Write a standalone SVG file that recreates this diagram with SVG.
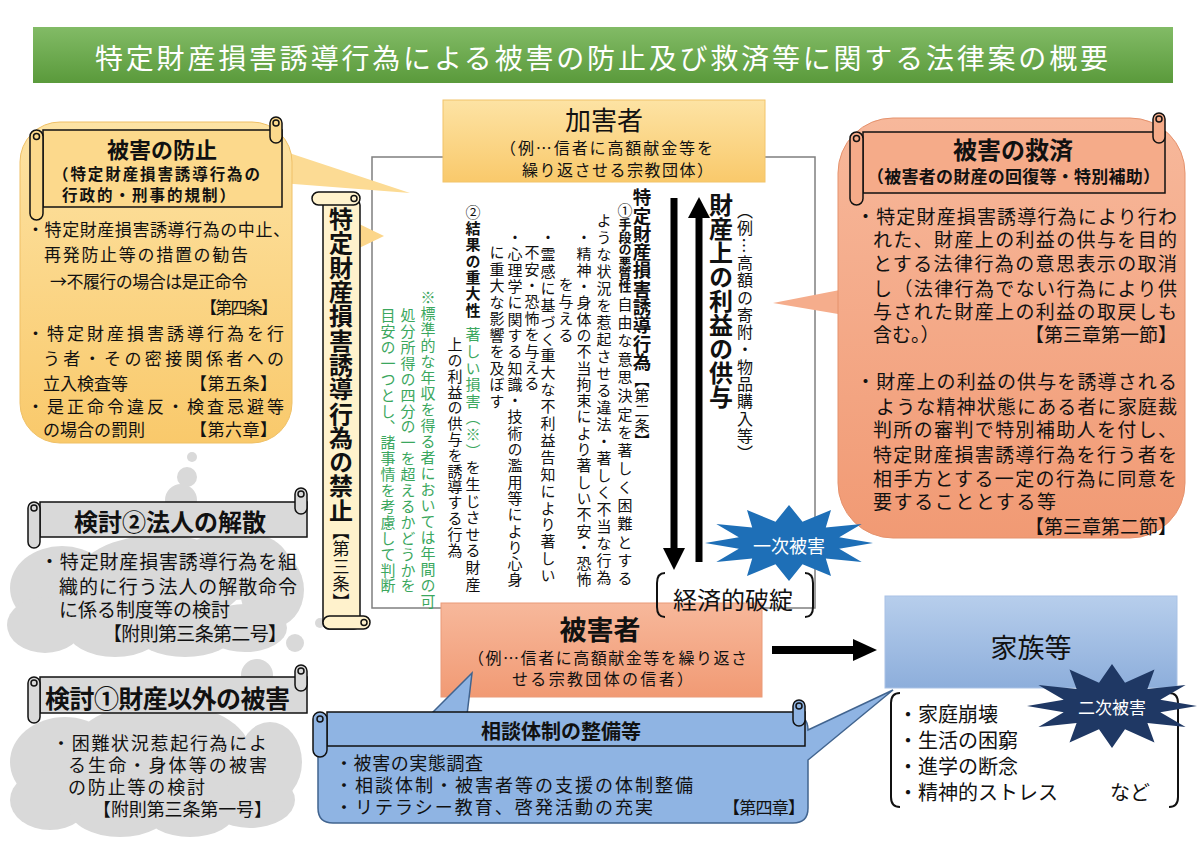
<svg xmlns="http://www.w3.org/2000/svg" width="1200" height="848" viewBox="0 0 1200 848">
<defs>
<linearGradient id="gTitle" x1="0" y1="0" x2="0" y2="1"><stop offset="0" stop-color="#82bb66"/><stop offset="1" stop-color="#5a9a3b"/></linearGradient>
<linearGradient id="gOrange" x1="0" y1="0" x2="0" y2="1"><stop offset="0" stop-color="#fde3a4"/><stop offset="1" stop-color="#f9c96b"/></linearGradient>
<linearGradient id="gSalmon" x1="0" y1="0" x2="0" y2="1"><stop offset="0" stop-color="#f7b89b"/><stop offset="1" stop-color="#f19a74"/></linearGradient>
<linearGradient id="gBlue" x1="0" y1="0" x2="0" y2="1"><stop offset="0" stop-color="#b7ceec"/><stop offset="1" stop-color="#8daedb"/></linearGradient>
<style>
text{font-family:'Noto Sans CJK JP','Noto Sans',sans-serif;fill:#111}
.v{writing-mode:vertical-rl;text-orientation:mixed}
.b{font-weight:bold}
.g{fill:#3ba75e}
.c{text-anchor:middle}
.m{dominant-baseline:central}
.w{fill:#fff}
.scroll{stroke:#111;stroke-width:1.5}
.cloud{fill:#d9d9d9}
.brk{fill:none;stroke:#111;stroke-width:2}
</style>
</defs>
<rect width="1200" height="848" fill="#fff"/>

<g id="title">
<rect x="33" y="27" width="1140" height="56" fill="url(#gTitle)"/>
<text class="w m" x="95" y="57" font-size="28" textLength="1013" lengthAdjust="spacing">特定財産損害誘導行為による被害の防止及び救済等に関する法律案の概要</text>
</g>

<g id="frame">
<rect x="372" y="157" width="443" height="451" fill="#fff" stroke="#7f7f7f" stroke-width="1.5"/>
</g>

<g id="cloud2">
<circle class="cloud" cx="192" cy="457" r="5"/>
<circle class="cloud" cx="187" cy="477" r="10"/>
<circle class="cloud" cx="181" cy="500" r="16"/>
<ellipse class="cloud" cx="62" cy="588" rx="52" ry="42"/>
<ellipse class="cloud" cx="45" cy="625" rx="38" ry="28"/>
<ellipse class="cloud" cx="115" cy="630" rx="48" ry="27"/>
<ellipse class="cloud" cx="185" cy="635" rx="48" ry="22"/>
<ellipse class="cloud" cx="245" cy="628" rx="42" ry="24"/>
<ellipse class="cloud" cx="272" cy="590" rx="32" ry="38"/>
<ellipse class="cloud" cx="160" cy="580" rx="85" ry="45"/>
<ellipse class="cloud" cx="235" cy="565" rx="55" ry="35"/>
<circle class="cloud" cx="295" cy="643" r="9"/>
<circle class="cloud" cx="320" cy="623" r="5"/>
</g>

<g id="cloud1">
<circle class="cloud" cx="257" cy="675" r="16"/>
<ellipse class="cloud" cx="65" cy="762" rx="55" ry="45"/>
<ellipse class="cloud" cx="50" cy="800" rx="40" ry="30"/>
<ellipse class="cloud" cx="120" cy="810" rx="50" ry="27"/>
<ellipse class="cloud" cx="190" cy="812" rx="45" ry="25"/>
<ellipse class="cloud" cx="250" cy="800" rx="45" ry="28"/>
<ellipse class="cloud" cx="270" cy="762" rx="32" ry="40"/>
<ellipse class="cloud" cx="160" cy="752" rx="90" ry="50"/>
</g>

<g id="prevention">
<polygon points="268,146 410,193 268,182" fill="#fcdb94"/>
<rect x="20" y="122" width="272" height="321" rx="40" fill="url(#gOrange)" stroke="#efc066" stroke-width="1"/>
<rect class="scroll" x="43" y="130" width="239" height="77" fill="#fcd98c"/>
<rect class="scroll" x="30" y="130" width="13" height="90" rx="6.5" fill="#fcd98c"/>
<circle class="scroll" cx="36.5" cy="136.5" r="3" fill="#fcd98c"/>
<rect class="scroll" x="270" y="117" width="12" height="26" rx="6" fill="#fcd98c"/>
<circle class="scroll" cx="276" cy="123" r="3" fill="#fcd98c"/>
<text class="b c m" x="162" y="148" font-size="22">被害の防止</text>
<text class="b m" x="53" y="173" font-size="15.5" textLength="207">（特定財産損害誘導行為の</text>
<text class="b m" x="62" y="194" font-size="15.5" textLength="173">行政的・刑事的規制）</text>
<text class="m" x="27" y="228" font-size="17" textLength="263">・特定財産損害誘導行為の中止、</text>
<text class="m" x="44" y="253" font-size="17" textLength="204">再発防止等の措置の勧告</text>
<text class="m" x="50" y="280" font-size="17" textLength="198">→不履行の場合は是正命令</text>
<text class="m" x="200" y="306" font-size="17" textLength="78">【第四条】</text>
<text class="m" x="27" y="332" font-size="17" textLength="257">・特定財産損害誘導行為を行</text>
<text class="m" x="43" y="357" font-size="17" textLength="241">う者・その密接関係者への</text>
<text class="m" x="43" y="382" font-size="17">立入検査等</text>
<text class="m" x="190" y="382" font-size="17" textLength="87">【第五条】</text>
<text class="m" x="27" y="405" font-size="17" textLength="257">・是正命令違反・検査忌避等</text>
<text class="m" x="43" y="428" font-size="17">の場合の罰則</text>
<text class="m" x="190" y="428" font-size="17" textLength="87">【第六章】</text>
</g>

<g id="prohibition">
<polygon points="355,222 384,236 355,250" fill="#fcd68a"/>
<rect class="scroll" x="323" y="199" width="37" height="430" rx="6" fill="#fff2cc"/>
<rect class="scroll" x="312" y="192" width="48" height="13" rx="6.5" fill="#fff2cc"/>
<circle class="scroll" cx="354" cy="198.5" r="3" fill="#fff2cc"/>
<rect class="scroll" x="323" y="616" width="47" height="13" rx="6.5" fill="#fff2cc"/>
<circle class="scroll" cx="364" cy="622.5" r="3" fill="#fff2cc"/>
<text class="v b" x="341" y="207" font-size="24" letter-spacing="0.3">特定財産損害誘導行為の禁止<tspan y="523" font-size="17" font-weight="normal" letter-spacing="0.4">【第三条】</tspan></text>
</g>

<g id="relief">
<polygon points="850,288 773,303 850,316" fill="#f5ad8c"/>
<rect x="838" y="118" width="347" height="420" rx="55" fill="url(#gSalmon)" stroke="#e5926d" stroke-width="1"/>
<rect class="scroll" x="863" y="132" width="302" height="61" fill="#f5ab89"/>
<rect class="scroll" x="850" y="132" width="13" height="73" rx="6.5" fill="#f5ab89"/>
<circle class="scroll" cx="856.5" cy="138.5" r="3" fill="#f5ab89"/>
<rect class="scroll" x="1153" y="113" width="12" height="30" rx="6" fill="#f5ab89"/>
<circle class="scroll" cx="1159" cy="119" r="3" fill="#f5ab89"/>
<text class="b c m" x="1013" y="148" font-size="24">被害の救済</text>
<text class="b m" x="867" y="175" font-size="17" textLength="293">（被害者の財産の回復等・特別補助）</text>
<text class="m" x="856" y="215" font-size="19" textLength="321">・特定財産損害誘導行為により行わ</text>
<text class="m" x="873" y="238" font-size="19" textLength="304">れた、財産上の利益の供与を目的</text>
<text class="m" x="873" y="262" font-size="19" textLength="304">とする法律行為の意思表示の取消</text>
<text class="m" x="873" y="287" font-size="19" textLength="304">し（法律行為でない行為により供</text>
<text class="m" x="873" y="310" font-size="19" textLength="304">与された財産上の利益の取戻しも</text>
<text class="m" x="873" y="333" font-size="19">含む。）</text>
<text class="m" x="1025" y="333" font-size="19" textLength="152">【第三章第一節】</text>
<text class="m" x="856" y="380" font-size="19" textLength="321">・財産上の利益の供与を誘導される</text>
<text class="m" x="876" y="405" font-size="19" textLength="301">ような精神状態にある者に家庭裁</text>
<text class="m" x="873" y="428" font-size="19" textLength="304">判所の審判で特別補助人を付し、</text>
<text class="m" x="873" y="453" font-size="19" textLength="304">特定財産損害誘導行為を行う者を</text>
<text class="m" x="873" y="477" font-size="19" textLength="304">相手方とする一定の行為に同意を</text>
<text class="m" x="873" y="500" font-size="19" textLength="183">要することとする等</text>
<text class="m" x="1025" y="525" font-size="19" textLength="152">【第三章第二節】</text>
</g>

<g id="perpetrator">
<rect x="443" y="100" width="322" height="82" fill="url(#gOrange)" stroke="#f2c46a" stroke-width="1"/>
<text class="c m" x="604" y="118" font-size="26">加害者</text>
<text class="m" x="500" y="147" font-size="16" textLength="213">（例…信者に高額献金等を</text>
<text class="m" x="522" y="169" font-size="16" textLength="191">繰り返させる宗教団体）</text>
</g>

<g id="act">
<text class="v b" x="642" y="188" font-size="18.5" letter-spacing="-0.2">特定財産損害誘導行為<tspan y="373" font-size="15" font-weight="normal" letter-spacing="0">【第二条】</tspan></text>
<text class="v" x="625" y="203" font-size="15">①<tspan class="b" y="218" font-size="13" letter-spacing="-0.6">手段の悪質性</tspan><tspan y="297" letter-spacing="3.3">自由な意思決定を著しく困難とする</tspan></text>
<text class="v" x="604" y="213" font-size="15" letter-spacing="2">ような状況を惹起させる違法・著しく不当な行為</text>
<text class="v" x="584" y="230" font-size="15" letter-spacing="1.3">・精神・身体の不当拘束により著しい不安・恐怖</text>
<text class="v" x="566" y="277" font-size="15" letter-spacing="2">を与える</text>
<text class="v" x="548" y="230" font-size="15" letter-spacing="1.9">・霊感に基づく重大な不利益告知により著しい</text>
<text class="v" x="532" y="245" font-size="15" letter-spacing="1.4">不安・恐怖を与える</text>
<text class="v" x="515" y="230" font-size="15" letter-spacing="1.3">・心理学に関する知識・技術の濫用等により心身</text>
<text class="v" x="497" y="245" font-size="15" letter-spacing="1.5">に重大な影響を及ぼす</text>
<text class="v" x="473" y="205" font-size="15">②<tspan class="b" y="221" letter-spacing="1.3">結果の重大性</tspan><tspan class="g" y="327" letter-spacing="1.6">著しい損害（※）</tspan><tspan letter-spacing="1.6">を生じさせる財産</tspan></text>
<text class="v" x="455" y="337" font-size="15" letter-spacing="0.8">上の利益の供与を誘導する行為</text>
<text class="v g" x="428" y="290" font-size="15" letter-spacing="1">※標準的な年収を得る者においては年間の可</text>
<text class="v g" x="408" y="308" font-size="15" letter-spacing="0.9">処分所得の四分の一を超えるかどうかを</text>
<text class="v g" x="388" y="308" font-size="15" letter-spacing="0.9">目安の一つとし、諸事情を考慮して判断</text>
</g>

<g id="benefit">
<text class="v b" x="721" y="193" font-size="24">財産上の利益の供与</text>
<text class="v" x="745" y="203" font-size="16" letter-spacing="1.3">（例…高額の寄附・物品購入等）</text>
</g>

<g id="connectors">
<line x1="674" y1="198" x2="674" y2="550" stroke="#000" stroke-width="7"/>
<polygon points="663,548 685,548 674,570" fill="#000"/>
<line x1="699" y1="215" x2="699" y2="562" stroke="#000" stroke-width="7"/>
<polygon points="688,218 710,218 699,197" fill="#000"/>
<line x1="772" y1="650" x2="856" y2="650" stroke="#000" stroke-width="8"/>
<polygon points="853,639 853,661 877,650" fill="#000"/>
</g>

<g id="victim">
<rect x="441" y="603" width="321" height="94" fill="url(#gSalmon)" stroke="#ea9a78" stroke-width="1"/>
<text class="b c m" x="600" y="628" font-size="27">被害者</text>
<text class="m" x="468" y="657" font-size="16" textLength="279">（例…信者に高額献金等を繰り返さ</text>
<text class="m" x="512" y="678" font-size="16" textLength="181">せる宗教団体の信者）</text>
</g>

<g id="collapse">
<path class="brk" d="M665,573 Q657,573 657,583 L657,607 Q657,617 665,617"/>
<path class="brk" d="M805,573 Q813,573 813,583 L813,607 Q813,617 805,617"/>
<text class="c m" x="733" y="598" font-size="24">経済的破綻</text>
</g>

<g id="primary">
<polygon fill="#1e6fb7" points="873,543 839.2,548.7 861.7,562 825.8,558.6 831,575.9 802.5,564.3 789,581 775.5,564.3 747,575.9 752.2,558.6 716.3,562 738.8,548.7 705,543 738.8,537.3 716.3,524 752.2,527.4 747,510.1 775.5,521.7 789,505 802.5,521.7 831,510.1 825.8,527.4 861.7,524 839.2,537.3"/>
<text class="w c m" x="789" y="545" font-size="18">一次被害</text>
</g>

<g id="consult">
<path d="M333,715 L430,715 L472,673 L467,715 L793,715 Q808,715 808,730 L893,690 L808,760 L808,808 Q808,823 793,823 L333,823 Q318,823 318,808 L318,730 Q318,715 333,715 Z" fill="#8fb4e3" stroke="#41648f" stroke-width="1.5"/>
<rect class="scroll" x="327" y="712" width="478" height="34" fill="#8fb4e3"/>
<rect class="scroll" x="313" y="712" width="14" height="45" rx="7" fill="#8fb4e3"/>
<circle class="scroll" cx="320" cy="719" r="3" fill="#8fb4e3"/>
<rect class="scroll" x="793" y="700" width="12" height="26" rx="6" fill="#8fb4e3"/>
<circle class="scroll" cx="799" cy="706" r="3" fill="#8fb4e3"/>
<text class="b c m" x="561" y="730" font-size="20">相談体制の整備等</text>
<text class="m" x="335" y="762" font-size="18" textLength="148">・被害の実態調査</text>
<text class="m" x="335" y="784" font-size="18" textLength="358">・相談体制・被害者等の支援の体制整備</text>
<text class="m" x="335" y="806" font-size="18" textLength="318">・リテラシー教育、啓発活動の充実</text>
<text class="m" x="723" y="806" font-size="17" textLength="82">【第四章】</text>
</g>

<g id="family">
<rect x="885" y="596" width="292" height="92" fill="url(#gBlue)" stroke="#a9c2e5" stroke-width="1"/>
<text class="c m" x="1031" y="646" font-size="27">家族等</text>
<path class="brk" d="M900,693 Q891,693 891,703 L891,797 Q891,807 900,807"/>
<path class="brk" d="M1169,693 Q1178,693 1178,703 L1178,797 Q1178,807 1169,807"/>
<text class="m" x="898" y="713" font-size="20">・家庭崩壊</text>
<text class="m" x="898" y="739" font-size="20">・生活の困窮</text>
<text class="m" x="898" y="765" font-size="20">・進学の断念</text>
<text class="m" x="898" y="791" font-size="20">・精神的ストレス</text>
<text class="m" x="1110" y="791" font-size="20">など</text>
</g>

<g id="secondary">
<polygon fill="#1f3864" points="1197,706 1160.3,712.2 1185.6,727 1147.4,723 1154.5,742.4 1125,729.2 1112,748 1099,729.2 1069.5,742.4 1076.6,723 1038.4,727 1063.7,712.2 1027,706 1063.7,699.8 1038.4,685 1076.6,689 1069.5,669.6 1099,682.8 1112,664 1125,682.8 1154.5,669.6 1147.4,689 1185.6,685 1160.3,699.8"/>
<text class="w c m" x="1112" y="706" font-size="17">二次被害</text>
</g>

<g id="study2">
<rect class="scroll" x="40" y="502" width="267" height="35" fill="#d9d9d9"/>
<rect class="scroll" x="28" y="502" width="12" height="46" rx="6" fill="#d9d9d9"/>
<circle class="scroll" cx="34" cy="508" r="3" fill="#d9d9d9"/>
<rect class="scroll" x="295" y="488" width="12" height="26" rx="6" fill="#d9d9d9"/>
<circle class="scroll" cx="301" cy="494" r="3" fill="#d9d9d9"/>
<text class="b c m" x="170" y="520" font-size="24">検討②法人の解散</text>
<text class="m" x="40" y="560" font-size="19" textLength="257">・特定財産損害誘導行為を組</text>
<text class="m" x="59" y="585" font-size="19" textLength="238">織的に行う法人の解散命令</text>
<text class="m" x="59" y="608" font-size="19">に係る制度等の検討</text>
<text class="m" x="103" y="632" font-size="19" textLength="184">【附則第三条第二号】</text>
</g>

<g id="study1">
<rect class="scroll" x="40" y="677" width="267" height="36" fill="#d9d9d9"/>
<rect class="scroll" x="28" y="677" width="12" height="46" rx="6" fill="#d9d9d9"/>
<circle class="scroll" cx="34" cy="683" r="3" fill="#d9d9d9"/>
<rect class="scroll" x="295" y="665" width="12" height="26" rx="6" fill="#d9d9d9"/>
<circle class="scroll" cx="301" cy="671" r="3" fill="#d9d9d9"/>
<text class="b m" x="45" y="697" font-size="25" textLength="245">検討①財産以外の被害</text>
<text class="m" x="52" y="742" font-size="18" textLength="215">・困難状況惹起行為によ</text>
<text class="m" x="68" y="764" font-size="18" textLength="199">る生命・身体等の被害</text>
<text class="m" x="68" y="786" font-size="18" textLength="137">の防止等の検討</text>
<text class="m" x="93" y="808" font-size="18" textLength="179">【附則第三条第一号】</text>
</g>
</svg>
